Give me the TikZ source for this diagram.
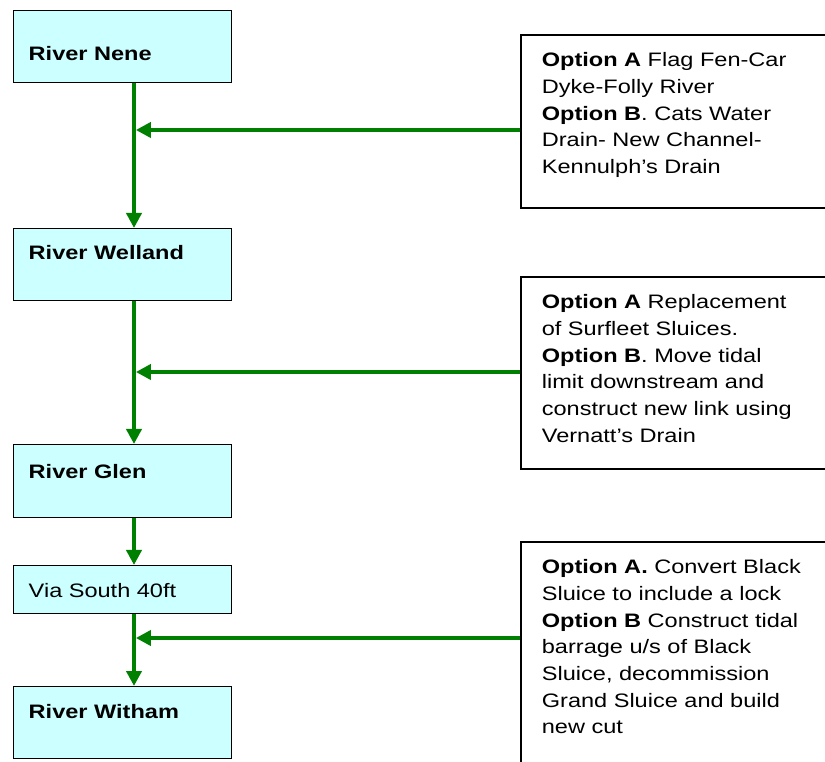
\documentclass[tikz,border=0pt]{standalone}
\usepackage{fontspec}
\setmainfont{Liberation Sans}[FakeStretch=1.21]
\usetikzlibrary{arrows.meta}

\tikzset{every picture/.style={line width=0.75pt}}
\tikzset{
  river/.style={draw, line width=1.1pt, fill={rgb, 255:red, 204; green, 255; blue, 255}, anchor=north west, inner xsep=11.25pt, inner ysep=0pt, text width=141pt, align=left, font=\fontsize{14.6}{20}\selectfont},
  optbox/.style={draw, line width=1.3pt, anchor=north west, inner xsep=15.75pt, inner ysep=0pt, text width=217.5pt, align=left, text height=24pt, font=\fontsize{14.6}{20}\selectfont},
  flow/.style={draw={rgb, 255:red, 0; green, 128; blue, 0}, line width=2.8pt, -{Triangle[length=11.25pt,width=11.25pt]}}
}

\begin{document}
\begin{tikzpicture}[x=0.75pt,y=0.75pt,yscale=-1,xscale=1]
	\useasboundingbox (0,0) rectangle (825,762);
	\clip (0,0) rectangle (825,762);

	% Text Node
	\node[river, text height=37.5pt, text depth=16.5pt] (nene) at (13,10) {\textbf{River Nene}};
	% Text Node
	\node[river, text height=23.25pt, text depth=30.75pt] (welland) at (13,228) {\textbf{River Welland}};
	% Text Node
	\node[river, text height=25.5pt, text depth=29.25pt] (glen) at (13,444) {\textbf{River Glen}};
	% Text Node
	\node[river, text height=24pt, text depth=12pt] (via) at (13,565) {Via South 40ft};
	% Text Node
	\node[river, text height=24pt, text depth=30pt] (witham) at (13,686) {\textbf{River Witham}};

	% Text Node
	\node[optbox, text depth=105.75pt] (optA) at (520,34) {\textbf{Option A} Flag Fen-Car\\ Dyke-Folly River\\ \textbf{Option B}. Cats Water\\ Drain- New Channel-\\ Kennulph’s Drain};
	% Text Node
	\node[optbox, text depth=120pt] (optB) at (520,276) {\textbf{Option A} Replacement\\ of Surfleet Sluices.\\ \textbf{Option B}. Move tidal\\ limit downstream and\\ construct new link using\\ Vernatt’s Drain};
	% Text Node
	\node[optbox, text depth=156pt] (optC) at (520,541) {\textbf{Option A.} Convert Black\\ Sluice to include a lock\\ \textbf{Option B} Construct tidal\\ barrage u/s of Black\\ Sluice, decommission\\ Grand Sluice and build\\ new cut};

	\coordinate (jA) at (134,130);
	\coordinate (jB) at (134,372);
	\coordinate (jC) at (134,638);

	%Straight Lines
	\draw[flow] (nene.south -| jA) -- (welland.north -| jA);
	\draw[flow, shorten >=1.4pt] (optA.west |- jA) -- (jA);
	%Straight Lines
	\draw[flow] (welland.south -| jB) -- (glen.north -| jB);
	\draw[flow, shorten >=1.4pt] (optB.west |- jB) -- (jB);
	%Straight Lines
	\draw[flow] (glen.south -| jB) -- (via.north -| jB);
	%Straight Lines
	\draw[flow] (via.south -| jC) -- (witham.north -| jC);
	\draw[flow, shorten >=1.4pt] (optC.west |- jC) -- (jC);

\end{tikzpicture}
\end{document}
